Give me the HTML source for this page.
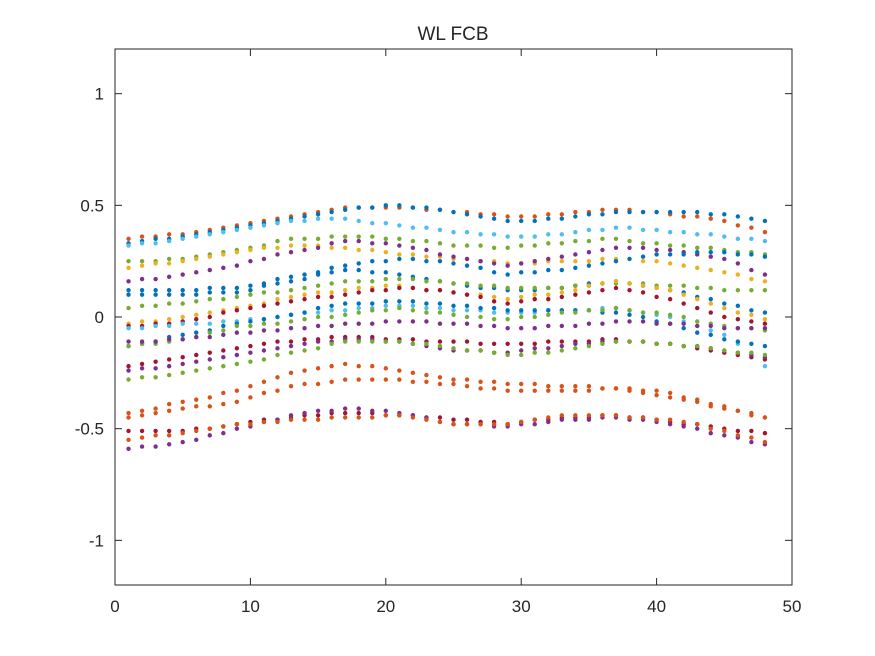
<!DOCTYPE html>
<html><head><meta charset="utf-8"><style>
html,body{margin:0;padding:0;background:#fff;width:875px;height:656px;overflow:hidden}
svg text{font-family:"Liberation Sans",sans-serif;fill:#262626}
</style></head><body>
<svg id="chart" width="875" height="656" viewBox="0 0 875 656" xmlns="http://www.w3.org/2000/svg">
<text x="453" y="40" font-size="19" text-anchor="middle">WL FCB</text>
<g id="marks"></g>
<g id="axes"></g>
</svg>
<script>
const xTicks=[0,10,20,30,40,50];
const yTicks=[-1,-0.5,0,0.5,1];
const yTickLabels=["-1","-0.5","0","0.5","1"];
const seriesColors=["#D95319","#0072BD","#4DBEEE","#77AC30","#EDB120","#7E2F8E","#0072BD","#0072BD","#77AC30","#EDB120","#A2142F","#4DBEEE","#0072BD","#77AC30","#7E2F8E","#A2142F","#7E2F8E","#77AC30","#D95319","#D95319","#A2142F","#7E2F8E","#D95319"];
const sA=[.35,.36,.36,.37,.37,.38,.39,.40,.41,.42,.43,.44,.45,.46,.47,.48,.49,.49,.49,.49,.49,.49,.48,.48,.47,.47,.46,.46,.45,.45,.45,.46,.46,.47,.47,.48,.48,.48,.47,.47,.46,.45,.45,.44,.43,.41,.40,.38];
const sB=[.33,.34,.35,.35,.36,.37,.38,.39,.40,.41,.42,.43,.44,.45,.46,.47,.48,.49,.49,.50,.50,.49,.49,.48,.47,.46,.45,.44,.43,.43,.43,.44,.44,.45,.46,.46,.47,.47,.47,.47,.47,.47,.47,.46,.46,.45,.44,.43];
const sC=[.32,.33,.33,.34,.35,.36,.37,.38,.39,.40,.41,.42,.43,.43,.44,.44,.44,.43,.42,.42,.41,.40,.40,.39,.38,.38,.37,.37,.36,.36,.36,.37,.37,.38,.39,.39,.40,.40,.39,.39,.38,.38,.37,.37,.36,.35,.35,.34];
const sG1=[.25,.25,.25,.26,.26,.27,.28,.29,.30,.31,.32,.34,.35,.35,.35,.36,.36,.36,.36,.35,.35,.34,.34,.33,.32,.32,.32,.31,.31,.32,.32,.33,.33,.34,.34,.35,.35,.34,.33,.33,.32,.32,.31,.31,.30,.29,.29,.28];
const sY1=[.22,.23,.24,.24,.25,.26,.27,.28,.29,.30,.31,.31,.32,.32,.32,.31,.31,.30,.30,.29,.28,.28,.27,.27,.26,.26,.25,.25,.24,.24,.24,.25,.25,.25,.25,.26,.26,.26,.25,.25,.24,.23,.22,.21,.20,.19,.17,.16];
const sP1=[.16,.17,.17,.18,.19,.20,.21,.22,.23,.25,.26,.28,.29,.30,.31,.33,.34,.34,.33,.33,.32,.31,.30,.28,.27,.26,.25,.24,.23,.24,.25,.26,.27,.28,.29,.30,.31,.31,.31,.30,.30,.29,.28,.27,.26,.24,.21,.19];
const sBM1=[.12,.12,.12,.12,.12,.12,.13,.13,.13,.14,.15,.17,.18,.19,.20,.22,.23,.24,.25,.25,.26,.26,.25,.25,.24,.23,.22,.20,.19,.20,.20,.21,.21,.22,.23,.24,.25,.26,.27,.28,.28,.28,.29,.29,.29,.28,.28,.27];
const sBM2=[.10,.10,.10,.10,.10,.10,.11,.11,.11,.12,.14,.15,.16,.17,.19,.20,.21,.21,.20,.20,.19,.18,.17,.16,.15,.14,.13,.13,.12,.12,.12,.13,.13,.14,.15,.15,.16,.15,.14,.13,.12,.11,.09,.08,.06,.05,.03,.02];
const sG2=[.04,.05,.05,.06,.06,.07,.08,.08,.09,.10,.11,.11,.12,.13,.14,.15,.16,.16,.16,.17,.17,.17,.16,.16,.15,.15,.14,.14,.13,.13,.13,.13,.13,.14,.14,.15,.15,.15,.15,.14,.14,.14,.13,.13,.12,.12,.12,.12];
const sY2=[-.03,-.02,-.02,-.01,.00,.01,.02,.03,.04,.05,.06,.08,.09,.10,.11,.11,.12,.13,.13,.14,.14,.13,.12,.12,.11,.10,.10,.09,.08,.09,.10,.10,.11,.12,.14,.15,.16,.15,.14,.13,.12,.10,.08,.06,.04,.02,.01,-.01];
const sR1=[-.04,-.04,-.03,-.03,-.02,-.01,.00,.02,.03,.04,.05,.06,.07,.08,.09,.09,.10,.11,.12,.12,.13,.13,.12,.12,.11,.10,.09,.07,.06,.07,.08,.08,.09,.10,.11,.12,.13,.12,.11,.09,.08,.06,.04,.02,.00,-.01,-.02,-.03];
const sLB2=[-.05,-.05,-.04,-.04,-.03,-.03,-.03,-.02,-.02,-.01,-.01,.00,.01,.02,.02,.03,.03,.04,.04,.05,.05,.05,.04,.04,.03,.03,.03,.02,.02,.02,.02,.03,.03,.03,.03,.04,.04,.03,.02,.01,.00,-.02,-.04,-.06,-.08,-.12,-.17,-.22];
const sB3=[-.13,-.12,-.11,-.09,-.08,-.07,-.06,-.04,-.03,-.02,-.01,.00,.01,.02,.04,.05,.06,.06,.06,.07,.07,.07,.06,.06,.05,.05,.04,.04,.03,.03,.03,.03,.03,.03,.03,.02,.02,.01,.00,-.02,-.03,-.05,-.07,-.08,-.10,-.11,-.12,-.13];
const sG3=[-.13,-.12,-.12,-.11,-.10,-.09,-.07,-.06,-.04,-.04,-.03,-.03,-.02,-.01,.00,.00,.01,.02,.03,.03,.04,.03,.02,.02,.01,.00,.00,-.01,-.01,.00,.00,.01,.02,.02,.03,.03,.04,.03,.02,.02,.01,.00,-.02,-.03,-.04,-.05,-.05,-.06];
const sP2=[-.11,-.11,-.11,-.10,-.10,-.09,-.09,-.08,-.07,-.07,-.06,-.06,-.05,-.05,-.04,-.04,-.03,-.03,-.03,-.02,-.02,-.02,-.02,-.03,-.03,-.03,-.04,-.04,-.05,-.05,-.05,-.04,-.04,-.04,-.03,-.03,-.02,-.02,-.02,-.03,-.03,-.03,-.04,-.04,-.05,-.05,-.05,-.05];
const sR2=[-.22,-.21,-.20,-.19,-.18,-.17,-.16,-.15,-.14,-.13,-.12,-.11,-.11,-.10,-.10,-.09,-.09,-.09,-.09,-.10,-.10,-.10,-.11,-.11,-.11,-.11,-.12,-.12,-.12,-.12,-.12,-.11,-.11,-.11,-.11,-.10,-.10,-.11,-.11,-.12,-.12,-.13,-.14,-.15,-.16,-.17,-.18,-.19];
const sP3=[-.24,-.23,-.23,-.22,-.21,-.20,-.19,-.18,-.17,-.16,-.15,-.14,-.13,-.12,-.11,-.11,-.10,-.10,-.10,-.11,-.11,-.12,-.13,-.14,-.15,-.15,-.15,-.16,-.16,-.15,-.14,-.14,-.13,-.12,-.12,-.11,-.11,-.11,-.11,-.12,-.12,-.13,-.13,-.14,-.15,-.16,-.17,-.18];
const sG4=[-.28,-.27,-.27,-.26,-.25,-.24,-.23,-.22,-.21,-.20,-.19,-.17,-.16,-.15,-.14,-.12,-.11,-.11,-.11,-.11,-.11,-.12,-.12,-.13,-.14,-.15,-.15,-.16,-.17,-.17,-.16,-.16,-.15,-.14,-.13,-.12,-.11,-.11,-.11,-.12,-.12,-.13,-.13,-.14,-.15,-.16,-.16,-.17];
const sO3=[-.43,-.42,-.41,-.39,-.38,-.37,-.36,-.34,-.33,-.31,-.29,-.27,-.25,-.24,-.23,-.22,-.21,-.22,-.22,-.23,-.24,-.25,-.26,-.27,-.28,-.28,-.29,-.29,-.30,-.30,-.30,-.31,-.31,-.31,-.31,-.32,-.32,-.33,-.34,-.35,-.36,-.37,-.38,-.40,-.41,-.42,-.44,-.45];
const sO4=[-.45,-.44,-.43,-.42,-.41,-.40,-.40,-.39,-.38,-.36,-.34,-.33,-.31,-.30,-.30,-.29,-.28,-.28,-.28,-.28,-.28,-.29,-.29,-.30,-.30,-.31,-.32,-.32,-.33,-.33,-.33,-.33,-.33,-.33,-.33,-.32,-.32,-.32,-.33,-.33,-.34,-.36,-.37,-.39,-.40,-.42,-.43,-.45];
const sR3=[-.51,-.51,-.51,-.51,-.51,-.50,-.50,-.49,-.48,-.47,-.46,-.46,-.45,-.44,-.44,-.43,-.43,-.43,-.43,-.44,-.44,-.44,-.45,-.45,-.46,-.46,-.47,-.47,-.48,-.47,-.46,-.46,-.45,-.45,-.45,-.44,-.44,-.45,-.45,-.46,-.47,-.48,-.48,-.49,-.50,-.51,-.51,-.52];
const sP4=[-.59,-.58,-.58,-.57,-.56,-.55,-.53,-.52,-.50,-.49,-.47,-.46,-.44,-.43,-.42,-.42,-.41,-.41,-.42,-.42,-.43,-.44,-.45,-.47,-.48,-.48,-.48,-.49,-.49,-.48,-.48,-.47,-.46,-.46,-.46,-.45,-.45,-.46,-.46,-.47,-.48,-.49,-.50,-.52,-.53,-.54,-.56,-.57];
const sO5=[-.55,-.54,-.53,-.53,-.52,-.51,-.50,-.49,-.48,-.48,-.47,-.47,-.46,-.46,-.46,-.45,-.45,-.45,-.45,-.44,-.44,-.45,-.46,-.47,-.48,-.48,-.48,-.48,-.48,-.47,-.46,-.45,-.44,-.44,-.44,-.44,-.44,-.45,-.45,-.46,-.46,-.47,-.48,-.50,-.51,-.53,-.54,-.56];
const allSeries=[sA,sB,sC,sG1,sY1,sP1,sBM1,sBM2,sG2,sY2,sR1,sLB2,sB3,sG3,sP2,sR2,sP3,sG4,sO3,sO4,sR3,sP4,sO5];

const L=115,R=792,T=49,B=585;
const xMin=0,xMax=50,yMin=-1.2,yMax=1.2;
function xs(v){return L+(v-xMin)/(xMax-xMin)*(R-L);}
function ys(v){return B-(v-yMin)/(yMax-yMin)*(B-T);}
const NS="http://www.w3.org/2000/svg";
const marks=document.getElementById('marks');
allSeries.forEach((ser,si)=>{
  const g=document.createElementNS(NS,'g');
  
  
  g.setAttribute('fill',seriesColors[si]);
  ser.forEach((v,i)=>{
    const c=document.createElementNS(NS,'circle');
    
    
    c.setAttribute('cx',xs(i+1));
    c.setAttribute('cy',ys(v));
    c.setAttribute('r',2.2);
    g.appendChild(c);
  });
  marks.appendChild(g);
});
const axes=document.getElementById('axes');
const box=document.createElementNS(NS,'rect');


box.setAttribute('x',L);box.setAttribute('y',T);box.setAttribute('width',R-L);box.setAttribute('height',B-T);
box.setAttribute('fill','none');box.setAttribute('stroke','#262626');box.setAttribute('stroke-width','1');
axes.appendChild(box);
function line(x1,y1,x2,y2,name){
  const l=document.createElementNS(NS,'line');
  
  
  l.setAttribute('x1',x1);l.setAttribute('y1',y1);l.setAttribute('x2',x2);l.setAttribute('y2',y2);
  l.setAttribute('stroke','#262626');l.setAttribute('stroke-width','1');
  axes.appendChild(l);
}
xTicks.forEach(t=>{
  const x=xs(t);
  line(x,B,x,B-7,'x-tick');
  line(x,T,x,T+7,'x-tick-top');
  const tx=document.createElementNS(NS,'text');
  
  
  tx.setAttribute('x',x);tx.setAttribute('y',612);
  tx.setAttribute('font-size','17');tx.setAttribute('text-anchor','middle');
  tx.textContent=String(t);
  axes.appendChild(tx);
});
yTicks.forEach((t,i)=>{
  const y=ys(t);
  line(L,y,L+7,y,'y-tick');
  line(R,y,R-7,y,'y-tick-right');
  const tx=document.createElementNS(NS,'text');
  
  
  tx.setAttribute('x',104);tx.setAttribute('y',y+6);
  tx.setAttribute('font-size','17');tx.setAttribute('text-anchor','end');
  tx.textContent=yTickLabels[i];
  axes.appendChild(tx);
});
</script>
</body></html>
